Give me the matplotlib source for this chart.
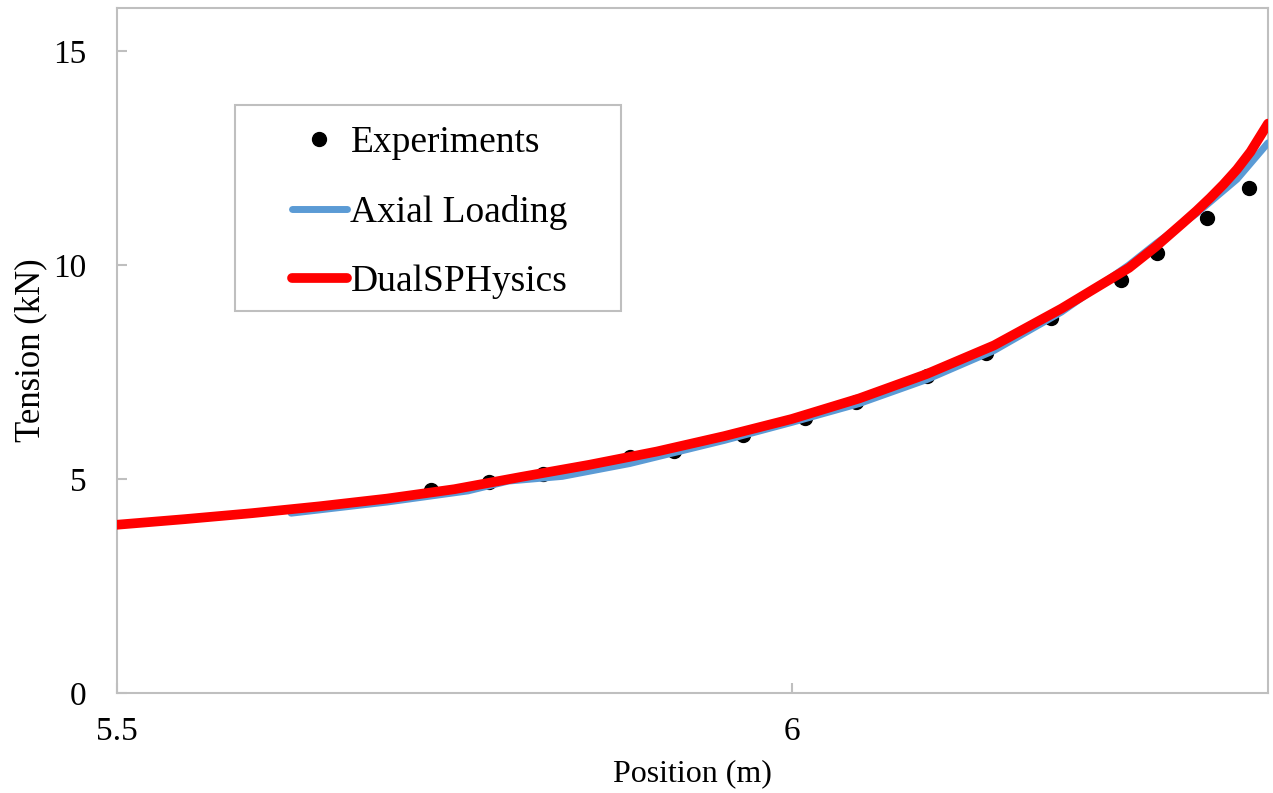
import matplotlib.pyplot as plt
from matplotlib.patches import Rectangle

plt.rcParams['font.family'] = ['Liberation Serif', 'DejaVu Serif']

# Experimental tension along the line
x_exp = [5.733, 5.776, 5.816, 5.880, 5.913, 5.964, 6.010, 6.048, 6.100,
         6.144, 6.192, 6.244, 6.271, 6.308, 6.339]
y_exp = [4.74, 4.93, 5.12, 5.51, 5.65, 6.03, 6.43, 6.80, 7.41,
         7.94, 8.76, 9.65, 10.28, 11.10, 11.80]

# Axial loading model
x_axial = [5.629, 5.70, 5.76, 5.79, 5.83, 5.88, 5.95, 6.00, 6.05, 6.10,
           6.15, 6.20, 6.25, 6.27, 6.30, 6.33, 6.353]
y_axial = [4.20, 4.46, 4.72, 4.95, 5.06, 5.36, 5.90, 6.32, 6.76, 7.32,
           8.00, 8.90, 10.00, 10.50, 11.20, 12.00, 12.85]

# DualSPHysics
x_sph = [5.50, 5.55, 5.60, 5.65, 5.70, 5.75, 5.80, 5.85, 5.90, 5.95, 6.00,
         6.05, 6.10, 6.15, 6.20, 6.23, 6.25, 6.27, 6.29, 6.30, 6.31, 6.32,
         6.33, 6.34, 6.353]
y_sph = [3.93, 4.06, 4.20, 4.36, 4.54, 4.76, 5.05, 5.33, 5.64, 6.00, 6.40,
         6.88, 7.45, 8.12, 8.98, 9.55, 9.93, 10.43, 10.98, 11.26, 11.56, 11.88,
         12.23, 12.64, 13.30]

fig = plt.figure(figsize=(12.73, 7.93), dpi=100)
ax = fig.add_axes([117 / 1273, 100 / 793, 1151 / 1273, 685 / 793])

ax.plot(x_exp, y_exp, 'o', color='black', markersize=10, label='Experiments', zorder=2)
ax.plot(x_axial, y_axial, color='#5b9bd5', linewidth=5, solid_capstyle='round',
        label='Axial Loading', zorder=3)
ax.plot(x_sph, y_sph, color='#ff0000', linewidth=7, solid_capstyle='round',
        label='DualSPHysics', zorder=4)

ax.set_xlim(5.5, 6.353)
ax.set_ylim(0, 16)
ax.set_xticks([5.5, 6])
ax.set_xticklabels(['5.5', '6'])
ax.set_yticks([0, 5, 10, 15])

grey = '#bfbfbf'
for s in ax.spines.values():
    s.set_color(grey)
    s.set_linewidth(1.5)
ax.tick_params(direction='in', length=7, width=1.5, color=grey, labelsize=24)
ax.tick_params(axis='x', pad=17)
ax.tick_params(axis='y', pad=22)

ax.set_xlabel('Position (m)', fontsize=23, labelpad=9)
ax.set_ylabel('Tension (kN)', fontsize=25, labelpad=4)

# legend box
box = Rectangle((235 / 1273, 1 - 311 / 793), 386 / 1273, 206 / 793,
                transform=fig.transFigure, facecolor='white', edgecolor=grey,
                linewidth=1.5, zorder=5)
ax.add_patch(box)
leg = ax.legend(loc='upper left', bbox_to_anchor=(266 / 1273, 1 - 99 / 793),
                bbox_transform=fig.transFigure, frameon=False, fontsize=27,
                handlelength=1.45, handletextpad=0.1, labelspacing=0.93,
                borderpad=0.2)
leg.set_zorder(6)

fig.savefig('out.png', dpi=100)
